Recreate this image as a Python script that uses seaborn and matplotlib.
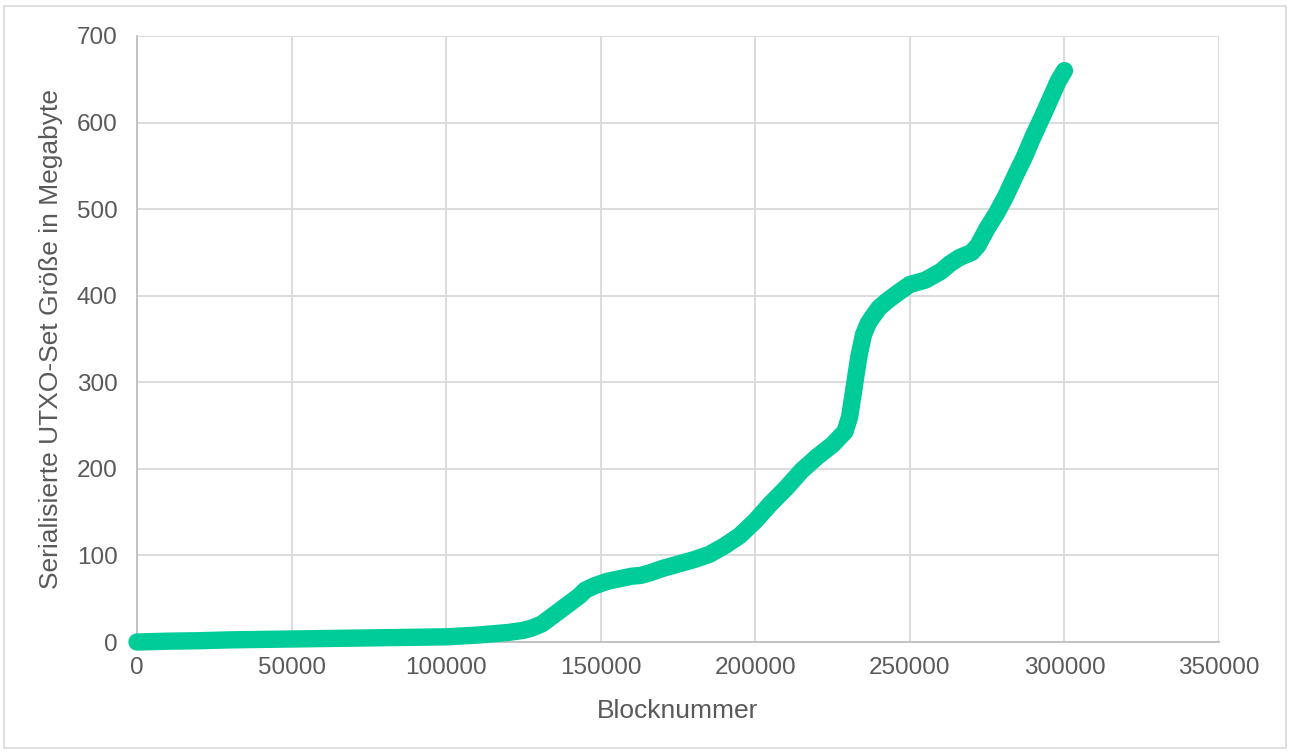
import matplotlib.pyplot as plt
import matplotlib.patches as mpatches
import pandas as pd
import seaborn as sns

# Blocknummer und serialisierte UTXO-Set Groesse (MB)
block = [0, 10000, 20000, 30000, 40000, 50000, 60000, 70000, 80000, 90000,
         100000, 105000, 110000, 115000, 120000, 125000, 128000, 131000, 134000, 137000,
         140000, 143000, 145000, 148000, 152000, 156000, 160000, 163000, 166000, 170000,
         175000, 180000, 185000, 190000, 195000, 200000, 205000, 210000, 215000, 220000,
         225000, 229000, 230500, 232000, 233500, 235000, 236500, 238000, 240000, 243000,
         246000, 250000, 255000, 260000, 263000, 266000, 270000, 272000, 275000, 278000,
         281000, 284000, 287000, 290000, 293000, 296000, 298000, 300000]
size_mb = [0, 1, 1.5, 2.5, 3, 3.5, 4, 4.5, 5, 5.5,
           6, 7, 8, 9.5, 11, 13.5, 16.5, 21, 29, 37,
           45, 53, 60, 65, 70, 73, 76, 77, 80, 85,
           90, 95, 101, 111, 123, 140, 160, 178, 198, 214,
           228, 243, 260, 295, 330, 355, 368, 376, 386, 395,
           403, 413, 418, 428, 437, 444, 450, 458, 478, 495,
           515, 538, 560, 585, 608, 632, 648, 660]

x_ticks = [0, 50000, 100000, 150000, 200000, 250000, 300000, 350000]
y_ticks = [0, 100, 200, 300, 400, 500, 600, 700]

df = pd.DataFrame({"Blocknummer": block, "Groesse": size_mb})

sns.set_style("white")
plt.rcParams["font.family"] = ["Liberation Sans", "DejaVu Sans"]

text_color = "#595959"
grid_color = "#d9d9d9"

fig = plt.figure(figsize=(12.9, 7.54), dpi=100)
ax = fig.add_axes([0.1062, 0.1485, 0.8388, 0.8038])

sns.lineplot(data=df, x="Blocknummer", y="Groesse", ax=ax, color="#00cc99",
             linewidth=12.5, solid_capstyle="round", solid_joinstyle="round",
             zorder=3, clip_on=False)

ax.set_xlim(0, 350000)
ax.set_ylim(0, 700)
ax.set_xticks(x_ticks)
ax.set_yticks(y_ticks)
ax.set_xticklabels([str(t) for t in x_ticks])
ax.set_yticklabels([str(t) for t in y_ticks])
ax.grid(True, color=grid_color, linewidth=1.3, zorder=0)
ax.set_axisbelow(True)

for side in ["top", "right"]:
    ax.spines[side].set_visible(False)
for side in ["left", "bottom"]:
    ax.spines[side].set_color("#bfbfbf")
    ax.spines[side].set_linewidth(1.3)

ax.tick_params(axis="both", length=0, labelsize=17.5, colors=text_color)
ax.tick_params(axis="y", pad=14)
ax.tick_params(axis="x", pad=11)

ax.set_xlabel("Blocknummer", fontsize=19, color=text_color, labelpad=14)
ax.set_ylabel("Serialisierte UTXO-Set Größe in Megabyte", fontsize=19,
              color=text_color, labelpad=10)

# Rahmen um das ganze Diagramm
fig.patches.append(mpatches.Rectangle((4 / 1290, 6 / 754), 1282 / 1290, 742 / 754,
                                      transform=fig.transFigure, fill=False,
                                      edgecolor=grid_color, linewidth=1.2))

fig.savefig("out.png", dpi=100)
plt.close(fig)
